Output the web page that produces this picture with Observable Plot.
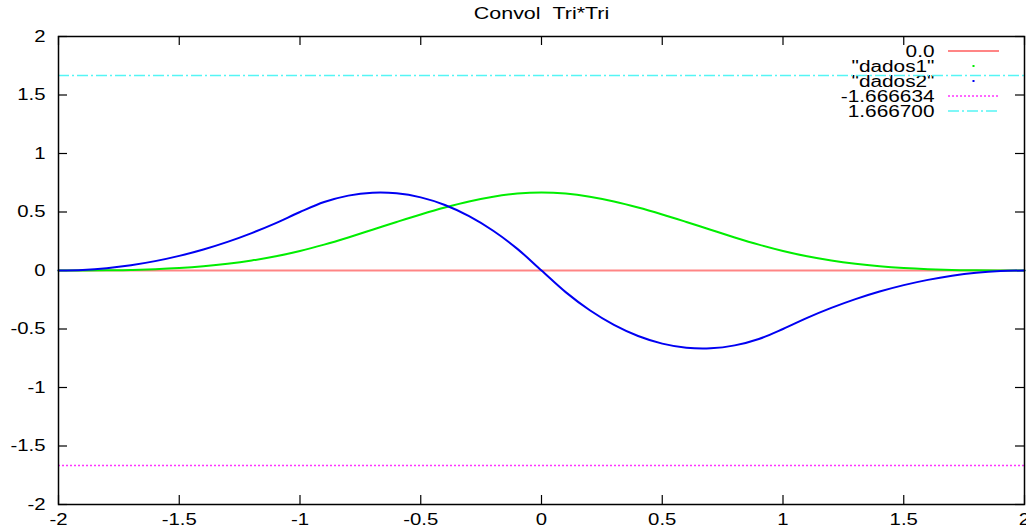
<!DOCTYPE html>
<html><head><meta charset="utf-8">
<script src="https://cdn.jsdelivr.net/npm/d3@7"></script>
<script src="https://cdn.jsdelivr.net/npm/@observablehq/plot@0.6"></script>
<style>
body{margin:0;background:#fff;}
#chart svg{font-family:"Liberation Sans",Arial,Helvetica,sans-serif;}
</style>
</head><body><div id="chart"></div>
<script>
const title = "Convol\u00a0\u00a0Tri*Tri";
const xs = [-2,-1.9,-1.8,-1.7,-1.6,-1.5,-1.4,-1.3,-1.2,-1.1,-1,-0.9,-0.8,-0.7,-0.6,-0.5,-0.4,-0.3,-0.2,-0.1,0,
  0.1,0.2,0.3,0.4,0.5,0.6,0.7,0.8,0.9,1,1.1,1.2,1.3,1.4,1.5,1.6,1.7,1.8,1.9,2];
const dados1 = [0,0.0002,0.0013,0.0045,0.0107,0.0208,0.036,0.0572,0.0853,0.1215,0.1667,
  0.2212,0.2827,0.3482,0.4147,0.4792,0.5387,0.5902,0.6307,0.6572,0.6667,
  0.6572,0.6307,0.5902,0.5387,0.4792,0.4147,0.3482,0.2827,0.2212,0.1667,
  0.1215,0.0853,0.0572,0.036,0.0208,0.0107,0.0045,0.0013,0.0002,0];
const dados2 = [0,0.005,0.02,0.045,0.08,0.125,0.18,0.245,0.32,0.405,0.5,
  0.585,0.64,0.665,0.66,0.625,0.56,0.465,0.34,0.185,0,
  -0.185,-0.34,-0.465,-0.56,-0.625,-0.66,-0.665,-0.64,-0.585,-0.5,
  -0.405,-0.32,-0.245,-0.18,-0.125,-0.08,-0.045,-0.02,-0.005,0];
const zeroLevel = 0.0;
const lowLevel = -1.666634;
const highLevel = 1.6667;
const xTicks = [-2,-1.5,-1,-0.5,0,0.5,1,1.5,2];
const yTicks = [-2,-1.5,-1,-0.5,0,0.5,1,1.5,2];
const legendLabels = ["0.0", "\"dados1\"", "\"dados2\"", "-1.666634", "1.666700"];
const colors = {zero:"#ff8585", d1:"#00ee00", d2:"#0000f2", low:"#ff33ff", high:"#55f5f5"};

const W = 1026, H = 529, mL = 58, mR = 2, mT = 36, mB = 25;
const innerW = W - mL - mR, innerH = H - mT - mB, tl = 9;
const pts1 = xs.map((x,i)=>({x, y: dados1[i]}));
const pts2 = xs.map((x,i)=>({x, y: dados2[i]}));

const plot = Plot.plot({
  width: W, height: H,
  marginLeft: mL, marginRight: mR, marginTop: mT, marginBottom: mB,
  x: {domain: [-2, 2], axis: null},
  y: {domain: [-2, 2], axis: null},
  style: {fontSize: "16px", overflow: "visible", background: "#fff"},
  marks: [
    Plot.tickX(xTicks, {x: d=>d, insetTop: innerH - tl, stroke: "black", strokeWidth: 1.2}),
    Plot.tickX(xTicks, {x: d=>d, insetBottom: innerH - tl, stroke: "black", strokeWidth: 1.2}),
    Plot.tickY(yTicks, {y: d=>d, insetRight: innerW - tl, stroke: "black", strokeWidth: 1.2}),
    Plot.tickY(yTicks, {y: d=>d, insetLeft: innerW - tl, stroke: "black", strokeWidth: 1.2}),
    Plot.text(xTicks, {x: d=>d, frameAnchor: "bottom", lineAnchor: "middle", dy: 15, text: d=>String(d), fontSize: 16, className: "tk"}),
    Plot.text(yTicks, {y: d=>d, frameAnchor: "left", lineAnchor: "middle", dx: -13, textAnchor: "end", text: d=>String(d), fontSize: 16, className: "tk"}),
    Plot.text([title], {frameAnchor: "top", lineAnchor: "middle", dy: -23, text: d=>d, fontSize: 16, className: "ttl"}),
    ...legendLabels.map((lab, i) => Plot.text([lab], {frameAnchor: "top-right", lineAnchor: "middle", dx: -90, dy: 15 + 15*i, textAnchor: "end", text: d=>d, fontSize: 16, className: "lg"})),
    Plot.ruleY([zeroLevel], {stroke: colors.zero, strokeWidth: 2}),
    Plot.line(pts1, {x: "x", y: "y", stroke: colors.d1, strokeWidth: 2, curve: "catmull-rom"}),
    Plot.line(pts2, {x: "x", y: "y", stroke: colors.d2, strokeWidth: 2, curve: "catmull-rom"}),
    Plot.ruleY([lowLevel], {stroke: colors.low, strokeWidth: 1.5, strokeDasharray: "2,2"}),
    Plot.ruleY([highLevel], {stroke: colors.high, strokeWidth: 1.5, strokeDasharray: "11,3,2,3"}),
    Plot.frame({stroke: "black", strokeWidth: 1.5})
  ]
});
document.getElementById("chart").appendChild(plot);

// horizontally stretch text to match the reference's wide lettering
const stretch = {tk: 1.27, lg: 1.3, ttl: 1.34};
for (const [cls, f] of Object.entries(stretch)) {
  d3.select(plot).selectAll(`g.${cls} text, g[class*="${cls}"] text`).each(function() {
    const len = this.getComputedTextLength();
    this.setAttribute("textLength", (len * f).toFixed(1));
    this.setAttribute("lengthAdjust", "spacingAndGlyphs");
  });
}

// legend samples
const svg = d3.select(plot);
const g = svg.append("g");
const sx1 = W - mR - 76, sx2 = W - mR - 25, sxm = (sx1 + sx2) / 2;
const rowY = i => mT + 15 + 15*i;
g.append("line").attr("x1", sx1).attr("x2", sx2).attr("y1", rowY(0)).attr("y2", rowY(0))
  .attr("stroke", colors.zero).attr("stroke-width", 2);
g.append("rect").attr("x", sxm-1).attr("y", rowY(1)-1).attr("width", 2).attr("height", 2).attr("fill", colors.d1);
g.append("rect").attr("x", sxm-1).attr("y", rowY(2)-1).attr("width", 2).attr("height", 2).attr("fill", colors.d2);
g.append("line").attr("x1", sx1).attr("x2", sx2).attr("y1", rowY(3)).attr("y2", rowY(3))
  .attr("stroke", colors.low).attr("stroke-width", 1.5).attr("stroke-dasharray", "2,2");
g.append("line").attr("x1", sx1).attr("x2", sx2).attr("y1", rowY(4)).attr("y2", rowY(4))
  .attr("stroke", colors.high).attr("stroke-width", 1.5).attr("stroke-dasharray", "11,3,2,3");
</script>
</body></html>
